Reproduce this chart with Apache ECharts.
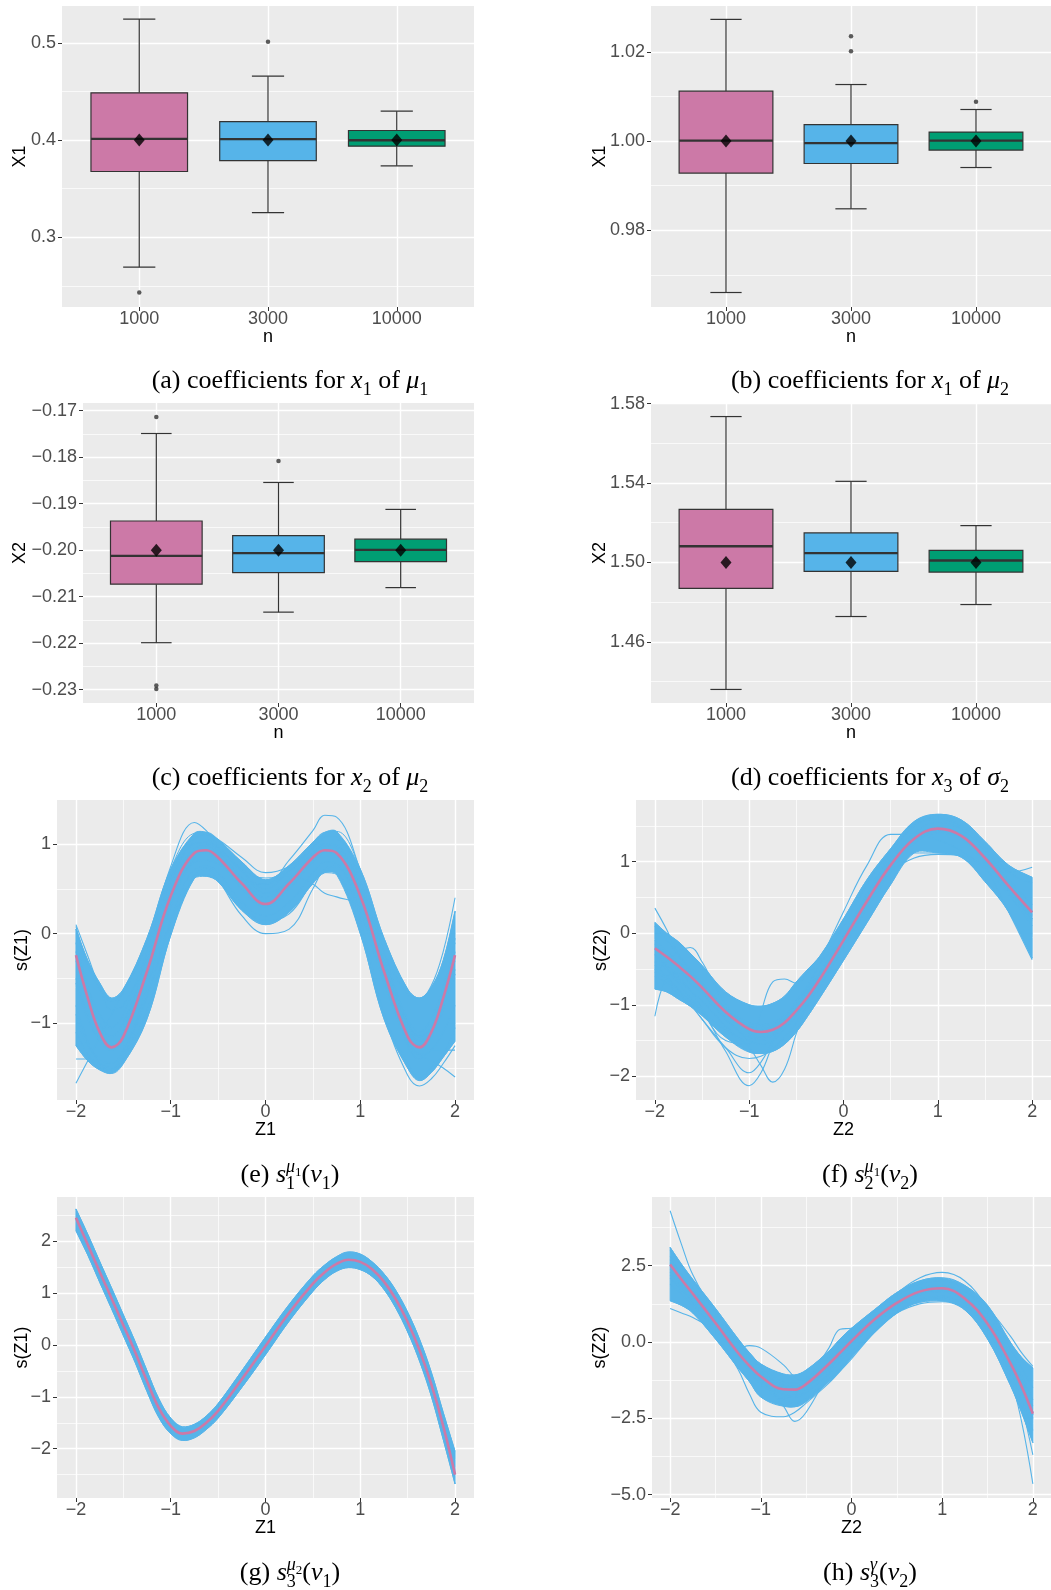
<!DOCTYPE html>
<html>
<head>
<meta charset="utf-8">
<script src="https://cdn.jsdelivr.net/npm/echarts@6/dist/echarts.min.js"></script>
<style>
  html, body { margin: 0; padding: 0; background: #ffffff; }
  #chart { width: 1051px; height: 1590px; }
</style>
</head>
<body>
<div id="chart"></div>
<script>
// ---------- box-plot panels: sample size groups ----------
const nLevels = [1, 2, 3];
const nLabels = ['1000', '3000', '10000'];

// (a) coefficient for x1 of mu1
const aLow  = [0.2693, 0.3255, 0.3736];
const aQ1   = [0.3677, 0.3790, 0.3938];
const aMed  = [0.4013, 0.4010, 0.3998];
const aQ3   = [0.4487, 0.4191, 0.4099];
const aHigh = [0.5245, 0.4658, 0.4298];
const aMean = [0.4, 0.4, 0.4];
const aOut  = [[0, 0.2432], [1, 0.5011]];
const aTicks = [0.3, 0.4, 0.5];
const aTickLabels = ['0.3', '0.4', '0.5'];
const aMinor = [0.25, 0.35, 0.45];

// (b) coefficient for x1 of mu2
const bLow  = [0.96605, 0.98482, 0.99408];
const bQ1   = [0.99283, 0.99498, 0.99798];
const bMed  = [1.0001, 0.99955, 1.0001];
const bQ3   = [1.0112, 1.00372, 1.00202];
const bHigh = [1.0273, 1.01269, 1.00709];
const bMean = [1.0, 1.0, 1.0];
const bOut  = [[1, 1.02354], [1, 1.02018], [2, 1.00881]];
const bTicks = [0.98, 1.00, 1.02];
const bTickLabels = ['0.98', '1.00', '1.02'];
const bMinor = [0.97, 0.99, 1.01];

// (c) coefficient for x2 of mu2
const cLow  = [-0.21989, -0.21332, -0.20805];
const cQ1   = [-0.20732, -0.20483, -0.20245];
const cMed  = [-0.20122, -0.20064, -0.19994];
const cQ3   = [-0.19373, -0.19687, -0.19764];
const cHigh = [-0.17493, -0.18545, -0.19124];
const cMean = [-0.2, -0.2, -0.2];
const cOut  = [[0, -0.17137], [0, -0.22908], [0, -0.22985], [1, -0.18081]];
const cTicks = [-0.23, -0.22, -0.21, -0.20, -0.19, -0.18, -0.17];
const cTickLabels = ['\u22120.23', '\u22120.22', '\u22120.21', '\u22120.20', '\u22120.19', '\u22120.18', '\u22120.17'];
const cMinor = [-0.225, -0.215, -0.205, -0.195, -0.185, -0.175];

// (d) coefficient for x3 of sigma2
const dLow  = [1.43603, 1.47276, 1.47879];
const dQ1   = [1.48693, 1.49548, 1.49513];
const dMed  = [1.50818, 1.50467, 1.50100];
const dQ3   = [1.52673, 1.51487, 1.50603];
const dHigh = [1.57347, 1.54085, 1.51854];
const dMean = [1.5, 1.5, 1.5];
const dOut  = [];
const dTicks = [1.46, 1.50, 1.54, 1.58];
const dTickLabels = ['1.46', '1.50', '1.54', '1.58'];
const dMinor = [1.44, 1.48, 1.52, 1.56];

// ---------- smooth-function panels ----------
const zTicks = [-2, -1, 0, 1, 2];
const zTickLabels = ['\u22122', '\u22121', '0', '1', '2'];
const zMinor = [-1.5, -0.5, 0.5, 1.5];

// (e) s1^mu1(nu1)
const xE = [-2, -1.875, -1.75, -1.625, -1.5, -1.25, -1, -0.75, -0.625, -0.5, -0.25, 0, 0.25, 0.5, 0.625, 0.75, 1, 1.25, 1.5, 1.625, 1.75, 1.875, 2];
const trueE = [-0.24, -0.72, -1.1, -1.27, -1.15, -0.42, 0.42, 0.90, 0.93, 0.85, 0.56, 0.33, 0.56, 0.85, 0.93, 0.90, 0.42, -0.42, -1.15, -1.27, -1.1, -0.72, -0.24];
const loE = [-1.25, -1.42, -1.52, -1.56, -1.45, -0.95, -0.02, 0.62, 0.64, 0.58, 0.26, 0.1, 0.24, 0.56, 0.68, 0.66, 0.0, -0.95, -1.5, -1.64, -1.55, -1.38, -1.2];
const hiE = [0.05, -0.3, -0.55, -0.72, -0.62, -0.05, 0.72, 1.12, 1.13, 1.05, 0.8, 0.6, 0.76, 1.02, 1.13, 1.14, 0.72, -0.05, -0.62, -0.72, -0.6, -0.3, 0.25];
const fitsE = [
  [-1.67, -1.42, -1.16, -0.9, -0.65, -0.12, 0.55, 1.0, 1.0, 0.92, 0.62, 0.4, 0.6, 0.9, 0.98, 0.95, 0.45, -0.4, -1.1, -1.25, -1.15, -0.85, -0.45],
  [-0.55, -0.95, -1.2, -1.3, -1.1, -0.2, 0.75, 1.24, 1.15, 0.98, 0.72, 0.62, 0.7, 0.9, 1.0, 0.98, 0.5, -0.3, -1.0, -1.15, -1.05, -0.75, -0.3],
  [-0.1, -0.6, -1.0, -1.15, -1.0, -0.3, 0.5, 0.95, 0.98, 0.88, 0.62, 0.55, 0.82, 1.15, 1.32, 1.3, 0.7, -0.2, -1.0, -1.2, -1.1, -0.75, -0.2],
  [-0.9, -1.25, -1.4, -1.45, -1.3, -0.7, 0.1, 0.65, 0.72, 0.6, 0.2, 0.0, 0.05, 0.5, 0.72, 0.75, 0.25, -0.55, -1.2, -1.35, -1.3, -1.1, -0.8],
  [-0.5, -0.9, -1.2, -1.3, -1.15, -0.45, 0.35, 0.8, 0.82, 0.78, 0.6, 0.55, 0.65, 0.55, 0.45, 0.41, 0.3, -0.35, -1.0, -1.15, -1.05, -0.8, -0.4],
  [-0.8, -1.2, -1.45, -1.55, -1.4, -0.7, 0.15, 0.72, 0.75, 0.68, 0.35, 0.2, 0.35, 0.68, 0.8, 0.78, 0.15, -0.9, -1.58, -1.7, -1.62, -1.45, -1.25],
  [0.08, -0.35, -0.62, -0.75, -0.65, -0.1, 0.65, 1.05, 1.05, 0.95, 0.7, 0.5, 0.7, 0.95, 1.05, 1.05, 0.55, -0.2, -0.68, -0.72, -0.58, -0.2, 0.4],
  [-0.3, -0.75, -1.1, -1.25, -1.12, -0.4, 0.4, 0.9, 0.92, 0.84, 0.55, 0.32, 0.55, 0.84, 0.92, 0.9, 0.4, -0.45, -1.2, -1.35, -1.42, -1.5, -1.6],
  [-1.4, -1.4, -1.45, -1.5, -1.35, -0.6, 0.3, 0.85, 0.9, 0.82, 0.5, 0.3, 0.5, 0.8, 0.9, 0.88, 0.35, -0.5, -1.25, -1.4, -1.3, -1.3, -1.3],
  [-0.2, -0.6, -0.9, -1.05, -0.9, -0.2, 0.6, 1.05, 1.1, 1.05, 0.85, 0.68, 0.75, 0.95, 1.08, 1.08, 0.6, -0.3, -0.95, -1.1, -0.95, -0.6, -0.1],
  [0.1, -0.25, -0.6, -0.85, -0.8, -0.25, 0.6, 1.0, 1.02, 0.95, 0.7, 0.45, 0.6, 0.9, 1.0, 0.98, 0.5, -0.35, -1.05, -1.2, -1.05, -0.65, -0.05],
  [-1.1, -1.35, -1.5, -1.52, -1.4, -0.85, 0.0, 0.62, 0.66, 0.6, 0.3, 0.15, 0.22, 0.58, 0.7, 0.68, 0.05, -0.9, -1.45, -1.6, -1.5, -1.35, -1.05]
];
const eTicks = [-1, 0, 1];
const eTickLabels = ['\u22121', '0', '1'];
const eMinor = [-1.5, -0.5, 0.5];

// (f) s2^mu1(nu2)
const xF = [-2, -1.875, -1.75, -1.625, -1.5, -1.25, -1, -0.875, -0.75, -0.625, -0.5, -0.375, -0.25, 0, 0.25, 0.5, 0.75, 1, 1.25, 1.5, 1.75, 2];
const trueF = [-0.21, -0.33, -0.46, -0.6, -0.76, -1.1, -1.34, -1.38, -1.35, -1.25, -1.08, -0.88, -0.64, -0.1, 0.45, 0.95, 1.32, 1.46, 1.36, 1.05, 0.66, 0.29];
const loF = [-0.78, -0.82, -0.92, -1.02, -1.15, -1.45, -1.66, -1.68, -1.65, -1.55, -1.38, -1.15, -0.9, -0.38, 0.15, 0.68, 1.12, 1.12, 1.06, 0.72, 0.3, -0.35];
const hiF = [0.15, 0.0, -0.12, -0.28, -0.45, -0.82, -1.0, -1.02, -0.98, -0.88, -0.68, -0.5, -0.32, 0.2, 0.75, 1.18, 1.56, 1.66, 1.58, 1.28, 0.95, 0.78];
const fitsF = [
  [-1.16, -0.62, -0.55, -0.7, -0.85, -1.2, -1.5, -1.55, -1.5, -1.35, -1.15, -0.9, -0.65, -0.1, 0.45, 0.95, 1.3, 1.45, 1.35, 1.05, 0.65, 0.2],
  [0.35, 0.05, -0.3, -0.55, -0.8, -1.2, -1.45, -1.48, -1.42, -1.3, -1.1, -0.9, -0.65, -0.05, 0.55, 1.05, 1.4, 1.55, 1.45, 1.15, 0.75, 0.4],
  [-0.55, -0.4, -0.25, -0.2, -0.4, -1.0, -1.4, -1.45, -1.4, -1.28, -1.1, -0.9, -0.65, -0.1, 0.45, 0.95, 1.32, 1.45, 1.35, 1.05, 0.68, 0.3],
  [-0.3, -0.45, -0.6, -0.8, -1.05, -1.65, -2.13, -1.95, -1.55, -1.2, -0.95, -0.75, -0.55, -0.05, 0.5, 1.0, 1.35, 1.48, 1.38, 1.05, 0.62, 0.2],
  [-0.4, -0.5, -0.65, -0.8, -0.95, -1.3, -1.6, -1.85, -2.08, -1.9, -1.4, -0.95, -0.6, -0.05, 0.5, 0.98, 1.32, 1.45, 1.35, 1.02, 0.6, 0.18],
  [-0.3, -0.5, -0.7, -0.9, -1.1, -1.5, -1.55, -1.1, -0.68, -0.64, -0.7, -0.55, -0.42, -0.05, 0.42, 0.92, 1.3, 1.45, 1.36, 1.05, 0.68, 0.3],
  [-0.5, -0.65, -0.8, -0.95, -1.1, -1.35, -1.5, -1.5, -1.42, -1.28, -1.05, -0.75, -0.4, 0.3, 0.95, 1.38, 1.38, 1.3, 1.15, 0.9, 0.55, 0.1],
  [-0.15, -0.3, -0.45, -0.6, -0.75, -1.1, -1.3, -1.32, -1.28, -1.18, -1.0, -0.8, -0.55, -0.05, 0.45, 0.85, 1.05, 1.1, 1.08, 0.95, 0.85, 0.92],
  [-0.1, -0.25, -0.4, -0.55, -0.7, -1.05, -1.3, -1.35, -1.3, -1.2, -1.02, -0.82, -0.58, -0.05, 0.55, 1.1, 1.5, 1.62, 1.45, 0.95, 0.3, -0.37],
  [-0.45, -0.6, -0.78, -0.98, -1.2, -1.6, -1.75, -1.72, -1.62, -1.45, -1.25, -1.0, -0.75, -0.2, 0.35, 0.85, 1.25, 1.4, 1.32, 1.0, 0.6, 0.2],
  [-0.6, -0.7, -0.85, -1.0, -1.2, -1.6, -1.95, -1.8, -1.5, -1.2, -0.98, -0.78, -0.6, -0.1, 0.45, 0.95, 1.3, 1.42, 1.33, 1.03, 0.64, 0.25],
  [0.1, -0.1, -0.3, -0.5, -0.7, -1.05, -1.25, -1.28, -1.25, -1.15, -0.95, -0.72, -0.45, 0.1, 0.68, 1.15, 1.5, 1.6, 1.5, 1.2, 0.85, 0.7]
];
const fTicks = [-2, -1, 0, 1];
const fTickLabels = ['\u22122', '\u22121', '0', '1'];
const fMinor = [-1.5, -0.5, 0.5, 1.5];

// (g) s3^mu2(nu1)
const xG = [-2, -1.875, -1.75, -1.625, -1.5, -1.375, -1.25, -1.125, -1, -0.875, -0.75, -0.625, -0.5, -0.25, 0, 0.25, 0.5, 0.625, 0.75, 0.875, 1, 1.125, 1.25, 1.375, 1.5, 1.625, 1.75, 1.875, 2];
const trueG = [2.45, 1.93, 1.41, 0.9, 0.38, -0.14, -0.7, -1.22, -1.56, -1.71, -1.66, -1.5, -1.27, -0.66, -0.02, 0.62, 1.18, 1.40, 1.56, 1.64, 1.6, 1.46, 1.22, 0.88, 0.44, -0.1, -0.76, -1.56, -2.5];
const loG = [2.2, 1.73, 1.21, 0.7, 0.18, -0.34, -0.9, -1.4, -1.71, -1.84, -1.79, -1.63, -1.41, -0.82, -0.19, 0.46, 1.03, 1.26, 1.42, 1.49, 1.45, 1.32, 1.07, 0.71, 0.25, -0.31, -0.99, -1.82, -2.68];
const hiG = [2.62, 2.13, 1.61, 1.1, 0.58, 0.06, -0.5, -1.04, -1.41, -1.58, -1.53, -1.37, -1.13, -0.5, 0.15, 0.78, 1.33, 1.54, 1.7, 1.79, 1.75, 1.6, 1.37, 1.05, 0.63, 0.11, -0.53, -1.3, -2.05];
const fitsG = [];
const gTicks = [-2, -1, 0, 1, 2];
const gTickLabels = ['\u22122', '\u22121', '0', '1', '2'];
const gMinor = [-2.5, -1.5, -0.5, 0.5, 1.5, 2.5];

// (h) s3^gamma(nu2)
const xH = [-2, -1.875, -1.75, -1.5, -1.25, -1.125, -1, -0.75, -0.625, -0.5, -0.25, -0.125, 0, 0.25, 0.5, 0.75, 1, 1.25, 1.5, 1.75, 1.875, 2];
const trueH = [2.54, 2.05, 1.58, 0.62, -0.36, -0.78, -1.13, -1.55, -1.56, -1.38, -0.72, -0.35, 0.03, 0.73, 1.28, 1.65, 1.76, 1.42, 0.6, -0.68, -1.45, -2.35];
const loH = [1.35, 1.2, 0.95, 0.1, -0.85, -1.3, -1.8, -2.1, -2.12, -1.95, -1.3, -0.95, -0.5, 0.3, 0.95, 1.3, 1.35, 1.05, 0.1, -1.4, -2.3, -3.3];
const hiH = [3.1, 2.55, 2.05, 1.1, 0.1, -0.35, -0.72, -1.05, -1.08, -0.92, -0.3, 0.1, 0.45, 1.05, 1.62, 2.0, 2.1, 1.85, 1.2, 0.0, -0.5, -0.85];
const fitsH = [
  [4.3, 3.2, 2.2, 0.9, -0.1, -0.55, -0.95, -1.4, -1.45, -1.3, -0.65, -0.3, 0.1, 0.8, 1.35, 1.75, 1.85, 1.5, 0.65, -0.6, -1.4, -2.3],
  [1.1, 0.95, 0.8, 0.35, -0.35, -0.8, -1.3, -1.9, -2.0, -1.85, -1.2, -0.85, -0.45, 0.35, 1.0, 1.4, 1.5, 1.25, 0.4, -1.0, -1.9, -2.9],
  [2.1, 1.7, 1.3, 0.45, -0.2, -0.12, -0.2, -0.75, -1.15, -1.3, -0.9, -0.5, -0.1, 0.6, 1.15, 1.55, 1.7, 1.45, 0.7, -0.55, -1.25, -2.1],
  [2.8, 2.2, 1.7, 0.7, -0.3, -0.8, -1.2, -2.1, -2.6, -2.3, -1.0, -0.4, 0.15, 0.8, 1.3, 1.7, 1.8, 1.5, 0.65, -0.7, -1.5, -2.4],
  [2.4, 1.95, 1.5, 0.55, -0.45, -0.95, -1.4, -1.85, -1.7, -1.3, -0.2, 0.42, 0.45, 0.6, 1.1, 1.55, 1.7, 1.4, 0.55, -0.75, -1.5, -2.4],
  [2.2, 1.75, 1.3, 0.3, -0.9, -1.7, -2.3, -2.45, -2.3, -2.0, -1.35, -0.95, -0.55, 0.3, 0.95, 1.35, 1.45, 1.2, 0.45, -0.8, -1.6, -2.5],
  [2.6, 2.1, 1.65, 0.7, -0.3, -0.7, -1.05, -1.45, -1.5, -1.3, -0.6, -0.2, 0.2, 1.0, 1.6, 2.1, 2.28, 2.0, 1.1, -0.2, -0.85, -1.5],
  [2.7, 2.2, 1.75, 0.75, -0.25, -0.7, -1.1, -1.55, -1.6, -1.45, -0.8, -0.4, 0.0, 0.7, 1.25, 1.6, 1.7, 1.35, 0.45, -1.2, -2.6, -4.65],
  [2.5, 2.0, 1.55, 0.6, -0.4, -0.85, -1.25, -1.7, -1.75, -1.55, -0.85, -0.45, -0.05, 0.65, 1.2, 1.55, 1.65, 1.3, 0.4, -1.0, -2.1, -3.7],
  [2.3, 1.85, 1.45, 0.5, -0.45, -0.85, -1.2, -1.55, -1.55, -1.4, -0.75, -0.35, 0.05, 0.75, 1.3, 1.65, 1.8, 1.65, 1.1, 0.2, -0.35, -0.8],
  [1.9, 1.55, 1.2, 0.4, -0.5, -0.9, -1.3, -1.75, -1.8, -1.65, -1.05, -0.65, -0.3, 0.4, 0.95, 1.25, 1.32, 1.15, 0.45, -0.9, -1.6, -2.4],
  [3.0, 2.5, 2.0, 1.0, 0.0, -0.45, -0.85, -1.3, -1.35, -1.2, -0.5, -0.1, 0.3, 0.95, 1.5, 1.9, 2.0, 1.7, 0.9, -0.4, -1.1, -1.9]
];
const hTicks = [-5, -2.5, 0, 2.5];
const hTickLabels = ['\u22125.0', '\u22122.5', '0.0', '2.5'];
const hMinor = [-3.75, -1.25, 1.25, 3.75];

// ---------- sub-figure captions (text pieces + math style) ----------
const capA = [['(a) coefficients for ', 'rm'], ['x', 'it'], ['1', 'sub'], [' of ', 'rm'], ['\u03bc', 'it'], ['1', 'sub']];
const capB = [['(b) coefficients for ', 'rm'], ['x', 'it'], ['1', 'sub'], [' of ', 'rm'], ['\u03bc', 'it'], ['2', 'sub']];
const capC = [['(c) coefficients for ', 'rm'], ['x', 'it'], ['2', 'sub'], [' of ', 'rm'], ['\u03bc', 'it'], ['2', 'sub']];
const capD = [['(d) coefficients for ', 'rm'], ['x', 'it'], ['3', 'sub'], [' of ', 'rm'], ['\u03c3', 'it'], ['2', 'sub']];
const capE = [['(e) ', 'rm'], ['s', 'it'], ['\u03bc', 'sup'], ['1', 'supsub'], ['1', 'sub', 'under'], ['(', 'rm'], ['\u03bd', 'it'], ['1', 'sub'], [')', 'rm']];
const capF = [['(f) ', 'rm'], ['s', 'it'], ['\u03bc', 'sup'], ['1', 'supsub'], ['2', 'sub', 'under'], ['(', 'rm'], ['\u03bd', 'it'], ['2', 'sub'], [')', 'rm']];
const capG = [['(g) ', 'rm'], ['s', 'it'], ['\u03bc', 'sup'], ['2', 'supsub'], ['3', 'sub', 'under'], ['(', 'rm'], ['\u03bd', 'it'], ['1', 'sub'], [')', 'rm']];
const capH = [['(h) ', 'rm'], ['s', 'it'], ['\u03b3', 'sup'], ['3', 'sub', 'under'], ['(', 'rm'], ['\u03bd', 'it'], ['2', 'sub'], [')', 'rm']];

// ---------- styling ----------
const BLUE = '#56B4E9', PINK = '#CC79A7', GREEN = '#009E73';
const boxFill = [PINK, BLUE, GREEN];
const SANS = '"Liberation Sans", Arial, sans-serif';
const SERIF = '"Liberation Serif", "Times New Roman", serif';
const capStyle = {
  rm:     { size: 26, italic: false, dy: 0 },
  it:     { size: 26, italic: true,  dy: 0 },
  sub:    { size: 18, italic: false, dy: 6 },
  sup:    { size: 18, italic: true,  dy: -11 },
  supsub: { size: 13, italic: false, dy: -7 }
};

const grids = [], xAxes = [], yAxes = [], series = [], graphics = [];

function pickLabel(v, vals, labels) {
  let k = 0, best = Infinity;
  vals.forEach((t, i) => { const d = Math.abs(t - v); if (d < best) { best = d; k = i; } });
  return labels[k];
}

function mainAxis(g, c, isY) {
  return {
    type: 'value', gridIndex: g, min: c.min, max: c.max,
    position: isY ? 'left' : 'bottom',
    name: c.name, nameLocation: 'middle', nameGap: c.gap, nameRotate: isY ? 90 : 0,
    nameMoveOverlap: false,
    nameTextStyle: { color: '#000000', fontSize: 18, fontFamily: SANS },
    axisLine: { show: false, onZero: false },
    axisTick: { show: true, length: 4, customValues: c.ticks, lineStyle: { color: '#333333', width: 1 } },
    axisLabel: {
      customValues: c.ticks, formatter: v => pickLabel(v, c.ticks, c.labels),
      color: '#4D4D4D', fontSize: 18, fontFamily: SANS, margin: isY ? 6 : 3, hideOverlap: false
    },
    splitLine: { show: true, lineStyle: { color: '#FFFFFF', width: 1.4 } },
    minorTick: { show: false }, minorSplitLine: { show: false }
  };
}

function minorAxis(g, c, isY) {
  return {
    type: 'value', gridIndex: g, min: c.min, max: c.max,
    position: isY ? 'left' : 'bottom',
    axisLine: { show: false, onZero: false },
    axisTick: { show: false, customValues: c.minor },
    axisLabel: { show: false, customValues: c.minor },
    splitLine: { show: true, lineStyle: { color: '#FFFFFF', width: 0.7 } }
  };
}

function addGrid(rect, xc, yc) {
  const g = grids.length;
  grids.push({
    left: rect[0], top: rect[1], width: rect[2], height: rect[3],
    show: true, backgroundColor: '#EBEBEB', borderWidth: 0,
    containLabel: false, outerBoundsMode: 'none'
  });
  const xi = xAxes.length, yi = yAxes.length;
  xAxes.push(mainAxis(g, xc, false));
  yAxes.push(mainAxis(g, yc, true));
  if (xc.minor) xAxes.push(minorAxis(g, xc, false));
  if (yc.minor) yAxes.push(minorAxis(g, yc, true));
  return { xi, yi };
}

// ggplot-style box: whiskers with caps, filled IQR box, bold median
function renderBox(params, api) {
  const i = params.dataIndex;
  const x = api.value(0);
  const pLow = api.coord([x, api.value(1)]);
  const pQ1 = api.coord([x, api.value(2)]);
  const pMed = api.coord([x, api.value(3)]);
  const pQ3 = api.coord([x, api.value(4)]);
  const pHigh = api.coord([x, api.value(5)]);
  const half = api.size([0.375, 0])[0];
  const cap = api.size([0.125, 0])[0];
  const cx = pMed[0];
  const ink = { stroke: '#333333', lineWidth: 1.2 };
  return {
    type: 'group',
    children: [
      { type: 'line', shape: { x1: cx, y1: pHigh[1], x2: cx, y2: pQ3[1] }, style: ink },
      { type: 'line', shape: { x1: cx, y1: pQ1[1], x2: cx, y2: pLow[1] }, style: ink },
      { type: 'line', shape: { x1: cx - cap, y1: pHigh[1], x2: cx + cap, y2: pHigh[1] }, style: ink },
      { type: 'line', shape: { x1: cx - cap, y1: pLow[1], x2: cx + cap, y2: pLow[1] }, style: ink },
      { type: 'rect', shape: { x: cx - half, y: pQ3[1], width: 2 * half, height: pQ1[1] - pQ3[1] },
        style: { fill: boxFill[i], stroke: '#333333', lineWidth: 1.2 } },
      { type: 'line', shape: { x1: cx - half, y1: pMed[1], x2: cx + half, y2: pMed[1] },
        style: { stroke: '#333333', lineWidth: 2.4 } }
    ]
  };
}

function boxPanel(rect, yc, low, q1, med, q3, high, mean, out) {
  const xc = { min: 0.4, max: 3.6, ticks: nLevels, labels: nLabels, name: 'n', gap: 21 };
  const { xi, yi } = addGrid(rect, xc, yc);
  series.push({
    type: 'custom', xAxisIndex: xi, yAxisIndex: yi, renderItem: renderBox, silent: true, z: 3,
    encode: { x: 0, y: [1, 2, 3, 4, 5] },
    data: low.map((v, i) => [nLevels[i], low[i], q1[i], med[i], q3[i], high[i]])
  });
  series.push({
    type: 'scatter', xAxisIndex: xi, yAxisIndex: yi, silent: true, z: 4,
    symbol: 'circle', symbolSize: 4.5, itemStyle: { color: '#333333' },
    data: out.map(o => [nLevels[o[0]], o[1]])
  });
  series.push({
    type: 'scatter', xAxisIndex: xi, yAxisIndex: yi, silent: true, z: 5,
    symbol: 'diamond', symbolSize: [11, 13], itemStyle: { color: '#000000' },
    data: mean.map((m, i) => [nLevels[i], m])
  });
}

function pts(xs, ys) { return xs.map((x, i) => [x, ys[i]]); }

// filled band between the lower and upper edge of the bulk of replicate fits
function bandRenderer(xs, lo, hi) {
  return function (params, api) {
    if (params.dataIndex !== 0) return null;
    const upper = xs.map((x, i) => api.coord([x, hi[i]]));
    const lower = xs.map((x, i) => api.coord([x, lo[i]])).reverse();
    const first = upper[0], last = upper[upper.length - 1];
    const lFirst = lower[0], lLast = lower[lower.length - 1];
    const points = [first].concat(upper, [last, lFirst], lower, [lLast]);
    return {
      type: 'polygon',
      shape: { points: points, smooth: 0.35 },
      style: { fill: BLUE, stroke: BLUE, lineWidth: 1 }
    };
  };
}

function curvePanel(rect, xName, yc, xs, truth, lo, hi, fits) {
  const xc = { min: -2.2, max: 2.2, ticks: zTicks, labels: zTickLabels, minor: zMinor, name: xName, gap: 21 };
  const { xi, yi } = addGrid(rect, xc, yc);
  const common = { type: 'line', xAxisIndex: xi, yAxisIndex: yi, smooth: 0.4, symbol: 'none', silent: true };
  series.push({
    type: 'custom', xAxisIndex: xi, yAxisIndex: yi, silent: true, z: 2,
    renderItem: bandRenderer(xs, lo, hi),
    encode: { x: 0, y: [1, 2] },
    data: xs.map((x, i) => [x, lo[i], hi[i]])
  });
  series.push(Object.assign({}, common, { z: 2, lineStyle: { color: BLUE, width: 1 }, data: pts(xs, lo) }));
  series.push(Object.assign({}, common, { z: 2, lineStyle: { color: BLUE, width: 1 }, data: pts(xs, hi) }));
  // individual replicate fits
  fits.forEach(f => series.push(Object.assign({}, common, {
    z: 3, lineStyle: { color: BLUE, width: 1.1 }, data: pts(xs, f)
  })));
  // true function
  series.push(Object.assign({}, common, {
    z: 4, lineStyle: { color: PINK, width: 2.6 }, data: pts(xs, truth)
  }));
}

// ---------- captions ----------
const measureCtx = document.createElement('canvas').getContext('2d');
function capFont(st) { return (st.italic ? 'italic ' : '') + st.size + 'px ' + SERIF; }
function addCaption(pieces, cx, baseline) {
  let x = 0, supStart = 0;
  const items = [];
  pieces.forEach(([t, kind, flag]) => {
    const st = capStyle[kind];
    const font = capFont(st);
    measureCtx.font = font;
    measureCtx.textBaseline = 'alphabetic';
    const w = measureCtx.measureText(t).width;
    const m = measureCtx.measureText('Hg');
    const mid = (m.fontBoundingBoxAscent - m.fontBoundingBoxDescent) / 2;
    if (kind === 'sup') supStart = x;
    const px = flag === 'under' ? supStart : x;
    items.push({ t, font, px, y: baseline + st.dy - mid });
    x = flag === 'under' ? Math.max(x, px + w) : px + w;
  });
  const x0 = cx - x / 2;
  items.forEach(it => graphics.push({
    type: 'text', x: x0 + it.px, y: it.y, silent: true,
    style: { text: it.t, font: it.font, fill: '#000000', align: 'left', verticalAlign: 'middle' }
  }));
}

// ---------- assemble ----------
boxPanel([62, 6, 412, 301],
  { min: 0.2283, max: 0.538, ticks: aTicks, labels: aTickLabels, minor: aMinor, name: 'X1', gap: 33 },
  aLow, aQ1, aMed, aQ3, aHigh, aMean, aOut);
boxPanel([651, 6, 400, 301],
  { min: 0.9628, max: 1.0303, ticks: bTicks, labels: bTickLabels, minor: bMinor, name: 'X1', gap: 42 },
  bLow, bQ1, bMed, bQ3, bHigh, bMean, bOut);
boxPanel([83, 403, 391, 300],
  { min: -0.23285, max: -0.16837, ticks: cTicks, labels: cTickLabels, minor: cMinor, name: 'X2', gap: 54 },
  cLow, cQ1, cMed, cQ3, cHigh, cMean, cOut);
boxPanel([651, 403, 400, 300],
  { min: 1.4292, max: 1.5803, ticks: dTicks, labels: dTickLabels, minor: dMinor, name: 'X2', gap: 42 },
  dLow, dQ1, dMed, dQ3, dHigh, dMean, dOut);

curvePanel([57, 800, 417, 300], 'Z1',
  { min: -1.857, max: 1.491, ticks: eTicks, labels: eTickLabels, minor: eMinor, name: 's(Z1)', gap: 26 },
  xE, trueE, loE, hiE, fitsE);
curvePanel([636, 800, 415, 300], 'Z2',
  { min: -2.33, max: 1.86, ticks: fTicks, labels: fTickLabels, minor: fMinor, name: 's(Z2)', gap: 26 },
  xF, trueF, loF, hiF, fitsF);
curvePanel([57, 1197, 417, 301], 'Z1',
  { min: -2.95, max: 2.85, ticks: gTicks, labels: gTickLabels, minor: gMinor, name: 's(Z1)', gap: 26 },
  xG, trueG, loG, hiG, fitsG);
curvePanel([652, 1197, 399, 301], 'Z2',
  { min: -5.11, max: 4.75, ticks: hTicks, labels: hTickLabels, minor: hMinor, name: 's(Z2)', gap: 43 },
  xH, trueH, loH, hiH, fitsH);

addCaption(capA, 290, 390);
addCaption(capB, 870, 390);
addCaption(capC, 290, 787);
addCaption(capD, 870, 787);
addCaption(capE, 290, 1184);
addCaption(capF, 870, 1184);
addCaption(capG, 290, 1582);
addCaption(capH, 870, 1582);

const chart = echarts.init(document.getElementById('chart'), null, { renderer: 'canvas', width: 1051, height: 1590 });
chart.setOption({
  animation: false,
  backgroundColor: '#FFFFFF',
  grid: grids,
  xAxis: xAxes,
  yAxis: yAxes,
  series: series,
  graphic: graphics
});
</script>
</body>
</html>
